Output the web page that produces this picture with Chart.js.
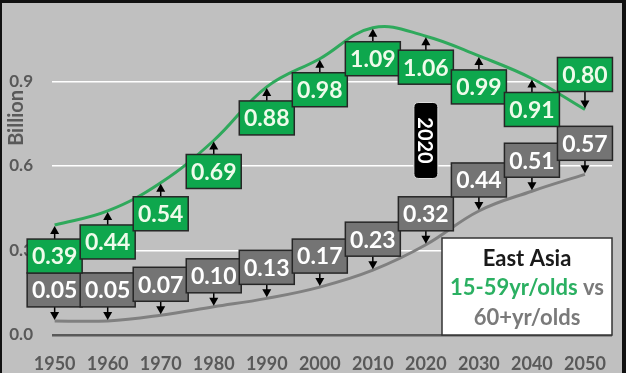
<!DOCTYPE html>
<html><head><meta charset="utf-8">
<script src="https://cdn.jsdelivr.net/npm/chart.js@4.4.0/dist/chart.umd.min.js"></script>
<style>html,body{margin:0;padding:0;background:#c0c0c0;overflow:hidden}#wrap{width:626px;height:373px;position:relative}</style>
</head><body><div id="wrap"><canvas id="c" width="626" height="373"></canvas></div>
<script>
// ---- data ----
const years = [1950, 1960, 1970, 1980, 1990, 2000, 2010, 2020, 2030, 2040, 2050];
const workingAge = [0.39, 0.44, 0.54, 0.69, 0.88, 0.98, 1.09, 1.06, 0.99, 0.91, 0.80];
const elderly = [0.05, 0.05, 0.07, 0.10, 0.13, 0.17, 0.23, 0.32, 0.44, 0.51, 0.57];
const yTickValues = [0, 0.3, 0.6, 0.9];
const yAxisTitle = 'Billion';
const markerYear = '2020';
const legendTitle = 'East Asia';
const legendSeriesA = '15-59yr/olds';
const legendJoin = ' vs';
const legendSeriesB = '60+yr/olds';

// ---- styles ----
const GREEN_BOX = '#0ea74d';
const GREEN_LINE = '#2fa95c';
const GREEN_TEXT = '#2bb062';
const GRAY_BOX = '#747474';
const GRAY_LINE = '#808080';
const AXIS_TEXT = '#595959';
const FONT = 'Lato, "Open Sans", sans-serif';

function roundRect(ctx, x, y, w, h, r) {
  ctx.beginPath();
  ctx.moveTo(x + r, y);
  ctx.lineTo(x + w - r, y); ctx.quadraticCurveTo(x + w, y, x + w, y + r);
  ctx.lineTo(x + w, y + h - r); ctx.quadraticCurveTo(x + w, y + h, x + w - r, y + h);
  ctx.lineTo(x + r, y + h); ctx.quadraticCurveTo(x, y + h, x, y + h - r);
  ctx.lineTo(x, y + r); ctx.quadraticCurveTo(x, y, x + r, y);
  ctx.closePath();
}

const annotations = {
  id: 'annotations',
  beforeDraw(chart) {
    const c = chart.ctx;
    c.save(); c.fillStyle = '#c0c0c0'; c.fillRect(0, 0, chart.width, chart.height); c.restore();
  },
  afterDatasetsDraw(chart) {
    const ctx = chart.ctx;
    const xs = chart.scales.x, ys = chart.scales.y;
    const BW = 55, BH = 34, GAP = 14;
    const arrow = (px, from, to) => {
      ctx.save();
      ctx.strokeStyle = '#000'; ctx.fillStyle = '#000'; ctx.lineWidth = 1.5;
      const dir = to > from ? 1 : -1;
      ctx.beginPath(); ctx.moveTo(px, from); ctx.lineTo(px, to - dir * 6); ctx.stroke();
      ctx.beginPath(); ctx.moveTo(px, to); ctx.lineTo(px - 4.5, to - dir * 8); ctx.lineTo(px + 4.5, to - dir * 8); ctx.closePath(); ctx.fill();
      ctx.restore();
    };
    const box = (cx, top, text, fill, textColor) => {
      ctx.save();
      ctx.fillStyle = fill; ctx.strokeStyle = '#262626'; ctx.lineWidth = 1.5;
      ctx.fillRect(cx - BW / 2, top, BW, BH);
      ctx.strokeRect(cx - BW / 2, top, BW, BH);
      ctx.fillStyle = textColor;
      ctx.font = 'bold 23px ' + FONT;
      ctx.textAlign = 'center'; ctx.textBaseline = 'middle';
      ctx.fillText(text, cx, top + BH / 2 + 1);
      ctx.restore();
    };
    const last = years.length - 1;
    years.forEach((yr, i) => {
      const px = xs.getPixelForValue(yr);
      const ey = ys.getPixelForValue(elderly[i]);
      arrow(px, ey - GAP, ey - 1);
      box(px, ey - GAP - BH, elderly[i].toFixed(2), GRAY_BOX, '#ffffff');
    });
    years.forEach((yr, i) => {
      const px = xs.getPixelForValue(yr);
      const gy = ys.getPixelForValue(workingAge[i]);
      if (i === last) {
        arrow(px, gy - 18, gy - 1);
        box(px, gy - 18 - BH, workingAge[i].toFixed(2), GREEN_BOX, '#eefbea');
      } else {
        arrow(px, gy + GAP, gy + 1);
        box(px, gy + GAP, workingAge[i].toFixed(2), GREEN_BOX, '#eefbea');
      }
    });
  },
  afterDraw(chart) {
    const ctx = chart.ctx;
    const xs = chart.scales.x, ys = chart.scales.y;
    const area = chart.chartArea;
    // 2020 marker
    const mx = xs.getPixelForValue(Number(markerYear));
    const my = ys.getPixelForValue(0.69);
    ctx.save();
    roundRect(ctx, mx - 12, my - 38, 24, 76, 5);
    ctx.fillStyle = '#000'; ctx.fill();
    ctx.strokeStyle = '#e0e0e0'; ctx.lineWidth = 1; ctx.stroke();
    ctx.translate(mx, my); ctx.rotate(Math.PI / 2);
    ctx.fillStyle = '#fff'; ctx.font = 'bold 20px ' + FONT;
    ctx.textAlign = 'center'; ctx.textBaseline = 'middle';
    ctx.fillText(markerYear, 0, 1);
    ctx.restore();
    // legend box
    const lw = 170, lh = 97;
    const lx = area.right - lw, ly = area.bottom - lh;
    ctx.save();
    ctx.fillStyle = '#ffffff'; ctx.fillRect(lx, ly, lw, lh);
    ctx.strokeStyle = '#333'; ctx.lineWidth = 1.5; ctx.strokeRect(lx, ly, lw, lh);
    const cx = lx + lw / 2;
    ctx.font = 'bold 22px ' + FONT; ctx.textBaseline = 'middle'; ctx.textAlign = 'left';
    let w = ctx.measureText(legendTitle).width;
    ctx.fillStyle = '#1a1a1a'; ctx.fillText(legendTitle, cx - w / 2, ly + 21);
    const wa = ctx.measureText(legendSeriesA).width, wj = ctx.measureText(legendJoin).width;
    let sx = cx - (wa + wj) / 2;
    ctx.fillStyle = GREEN_TEXT; ctx.fillText(legendSeriesA, sx, ly + 50);
    ctx.fillStyle = '#7a7a7a'; ctx.fillText(legendJoin, sx + wa, ly + 50);
    w = ctx.measureText(legendSeriesB).width;
    ctx.fillText(legendSeriesB, cx - w / 2, ly + 80);
    ctx.restore();
    // y axis title
    ctx.save();
    ctx.translate(17, ys.getPixelForValue(0.77));
    ctx.rotate(-Math.PI / 2);
    ctx.fillStyle = AXIS_TEXT; ctx.font = 'bold 20px ' + FONT;
    ctx.textAlign = 'center'; ctx.textBaseline = 'middle';
    ctx.fillText(yAxisTitle, 0, 0);
    ctx.restore();
    // frame
    ctx.save();
    ctx.fillStyle = '#111';
    ctx.fillRect(0, 0, chart.width, 3);
    ctx.fillRect(0, 0, 2, chart.height);
    ctx.fillRect(chart.width - 4, 0, 4, chart.height);
    ctx.restore();
  }
};

new Chart(document.getElementById('c'), {
  type: 'line',
  data: {
    datasets: [
      { label: legendSeriesA, data: years.map((yr, i) => ({ x: yr, y: workingAge[i] })),
        borderColor: GREEN_LINE, borderWidth: 3, pointRadius: 0, tension: 0.4, fill: false, clip: false },
      { label: legendSeriesB, data: years.map((yr, i) => ({ x: yr, y: elderly[i] })),
        borderColor: GRAY_LINE, borderWidth: 3, pointRadius: 0, tension: 0.4, fill: false, clip: false }
    ]
  },
  options: {
    responsive: false, animation: false, devicePixelRatio: 1,
    layout: { padding: { top: 8, right: 14, left: 0, bottom: 0 } },
    plugins: { legend: { display: false }, tooltip: { enabled: false } },
    scales: {
      x: {
        type: 'linear', min: 1949.5, max: 2055.1,
        afterBuildTicks: s => { s.ticks = years.map(v => ({ value: v })); },
        afterFit: s => { s.height = 38; s.paddingLeft = 0; s.paddingRight = 0; },
        grid: { display: false, drawTicks: false },
        border: { display: false },
        ticks: { autoSkip: false, maxRotation: 0, padding: 18, color: AXIS_TEXT,
          font: { family: FONT, weight: 'bold', size: 18 }, callback: v => String(v) }
      },
      y: {
        min: 0, max: 1.16,
        afterBuildTicks: s => { s.ticks = yTickValues.map(v => ({ value: v })); },
        afterFit: s => { s.width = 52; s.paddingTop = 0; s.paddingBottom = 0; },
        grid: { drawTicks: false, color: c => c.tick && c.tick.value === 0 ? '#595959' : '#ffffff',
          lineWidth: c => c.tick && c.tick.value === 0 ? 2.5 : 1.5 },
        border: { display: false },
        ticks: { padding: 19, color: AXIS_TEXT, font: { family: FONT, weight: 'bold', size: 17 },
          callback: v => v.toFixed(1) }
      }
    }
  },
  plugins: [annotations]
});
</script></body></html>
